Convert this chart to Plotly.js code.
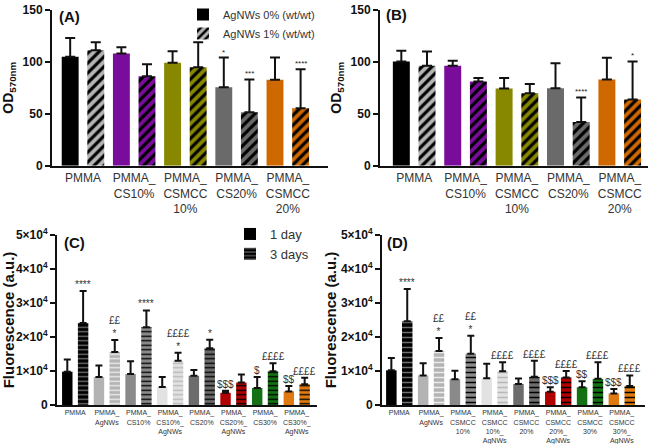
<!DOCTYPE html>
<html><head><meta charset="utf-8">
<script src="https://cdn.plot.ly/plotly-3.0.1.min.js"></script>
<style>html,body{margin:0;padding:0;background:#fff}#chart{width:650px;height:444px}</style>
</head><body><div id="chart"></div>
<script>
// ---------- Data ----------
const abCats = ['PMMA','PMMA_<br>CS10%','PMMA_<br>CSMCC<br>10%','PMMA_<br>CS20%','PMMA_<br>CSMCC<br>20%'];
const abNames = ['AgNWs 0% (wt/wt)','AgNWs 1% (wt/wt)'];
const A_ag0 = [104.8,108,99,75.4,82.7];
const A_ag0_sd = [18,6,11,28.6,21.3];
const A_ag1 = [111,86,94.6,51.5,55.3];
const A_ag1_sd = [7.6,11.6,24,31.5,37.4];
const A_sig0 = ['','','','*',''];
const A_sig1 = ['','','','***','****'];
const B_ag0 = [100.3,96,74.2,74.5,83];
const B_ag0_sd = [10.2,5,10.1,23.9,20.8];
const B_ag1 = [96.2,81,69.7,42,63.7];
const B_ag1_sd = [13.6,3.3,8.9,23.6,36.6];
const B_sig0 = ['','','','',''];
const B_sig1 = ['','','','****','*'];

const cdNames = ['1 day','3 days'];
const C_cats = ['PMMA','PMMA_<br>AgNWs','PMMA_<br>CS10%','PMMA_<br>CS10%_<br>AgNWs','PMMA_<br>CS20%','PMMA_<br>CS20%_<br>AgNWs','PMMA_<br>CS30%','PMMA_<br>CS30%_<br>AgNWs'];
const C_d1 = [9800,8200,9100,5300,8600,3600,5000,4000];
const C_d1_sd = [3600,3400,3800,2900,1700,600,3200,1600];
const C_d3 = [24100,15600,22900,13000,16700,6600,9900,6100];
const C_d3_sd = [9400,3500,4900,2400,2500,2400,2400,1900];
const C_sig1 = ['','','','','','$$$','$','$$'];
const C_sig3 = ['****','££<br>*','****','££££<br>*','*','','££££','££££'];
const D_cats = ['PMMA','PMMA_<br>AgNWs','PMMA_<br>CSMCC<br>10%','PMMA_<br>CSMCC<br>10%_<br>AgNWs','PMMA_<br>CSMCC<br>20%','PMMA_<br>CSMCC<br>20%_<br>AgNWs','PMMA_<br>CSMCC<br>30%','PMMA_<br>CSMCC<br>30%_<br>AgNWs'];
const D_d1 = [10200,8700,7600,7900,6200,3900,5200,3400];
const D_d1_sd = [3600,3600,2500,4200,1600,1300,1800,1300];
const D_d3 = [24600,15900,15100,9900,8300,8100,7700,5600];
const D_d3_sd = [9500,3800,5300,2700,4700,1900,4900,3100];
const D_sig1 = ['','','','','','$$$','$$','$$$'];
const D_sig3 = ['****','££<br>*','££<br>*','££££','££££','££££','££££','££££'];
const cdTicks = [0,10000,20000,30000,40000,50000];
const cdTickText = ['0','1×10<sup>4</sup>','2×10<sup>4</sup>','3×10<sup>4</sup>','4×10<sup>4</sup>','5×10<sup>4</sup>'];

// ---------- Styles ----------
const abSolid = ['#000000','#7a0c9c','#878700','#6a6a6a','#d06800'];
const abHatchBg = ['#b5b5b5','#7a0c9c','#878700','#6a6a6a','#d06800'];
const abHatchFg = ['#000000','#000000','#000000','#000000','#000000'];
const cdSolid = ['#000000','#b3b3b3','#8a8a8a','#e2e2e2','#6c6c6c','#b00000','#137013','#e07a10'];
const cdLineFg = ['#707070','#ececec','#000000','#b8b8b8','#000000','#000000','#000000','#000000'];
const FONT = 'Arial, Liberation Sans, sans-serif';

const zeros = n => new Array(n).fill(0);
function bar(name, cats, vals, sd, xa, ya, opt) {
  const t = {
    type: 'bar', name: name, x: cats, y: vals, xaxis: xa, yaxis: ya,
    marker: {color: opt.color, line: {width: 0}},
    error_y: {type: 'data', symmetric: false, array: sd, arrayminus: zeros(sd.length),
              color: '#111', thickness: opt.eth, width: opt.ew},
    showlegend: !!opt.legend, legend: opt.legend || 'legend', hoverinfo: 'skip'
  };
  if (opt.pattern) t.marker.pattern = opt.pattern;
  return t;
}
// scalar marker colour on patterned traces so the per-point pattern colours are honoured
function pat(shape, bg, fg, size, sol) {
  return {shape: shape, fillmode: 'replace', bgcolor: bg, fgcolor: fg, fgopacity: 1, size: size, solidity: sol};
}

const data = [
  bar(abNames[0], abCats, A_ag0, A_ag0_sd, 'x', 'y', {color: abSolid, eth: 2, ew: 5, legend: 'legend'}),
  bar(abNames[1], abCats, A_ag1, A_ag1_sd, 'x', 'y', {color: '#000', eth: 2, ew: 5, legend: 'legend',
      pattern: pat('/', abHatchBg, abHatchFg, 7, 0.45)}),
  bar(abNames[0], abCats, B_ag0, B_ag0_sd, 'x2', 'y2', {color: abSolid, eth: 2, ew: 5}),
  bar(abNames[1], abCats, B_ag1, B_ag1_sd, 'x2', 'y2', {color: '#000', eth: 2, ew: 5,
      pattern: pat('/', abHatchBg, abHatchFg, 7, 0.45)}),
  bar(cdNames[0], C_cats, C_d1, C_d1_sd, 'x3', 'y3', {color: cdSolid, eth: 2, ew: 3.5, legend: 'legend2'}),
  bar(cdNames[1], C_cats, C_d3, C_d3_sd, 'x3', 'y3', {color: '#000', eth: 2, ew: 3.5, legend: 'legend2',
      pattern: pat('-', cdSolid, cdLineFg, 4.5, 0.3)}),
  bar(cdNames[0], D_cats, D_d1, D_d1_sd, 'x4', 'y4', {color: cdSolid, eth: 2, ew: 3.5}),
  bar(cdNames[1], D_cats, D_d3, D_d3_sd, 'x4', 'y4', {color: '#000', eth: 2, ew: 3.5,
      pattern: pat('-', cdSolid, cdLineFg, 5, 0.3)})
];

// significance annotations
const annotations = [];
function sig(texts, vals, sd, off, xr, yr, size, color) {
  texts.forEach((s, i) => {
    if (!s) return;
    annotations.push({x: i + off, y: vals[i] + sd[i], xref: xr, yref: yr, text: s, showarrow: false,
      yanchor: 'bottom', yshift: -1, font: {family: FONT, size: size, color: color}});
  });
}
sig(A_sig0, A_ag0, A_ag0_sd, -0.25, 'x', 'y', 8, '#222');
sig(A_sig1, A_ag1, A_ag1_sd, 0.25, 'x', 'y', 8, '#222');
sig(B_sig0, B_ag0, B_ag0_sd, -0.25, 'x2', 'y2', 8, '#222');
sig(B_sig1, B_ag1, B_ag1_sd, 0.25, 'x2', 'y2', 8, '#222');
sig(C_sig1, C_d1, C_d1_sd, -0.25, 'x3', 'y3', 10, '#333');
sig(C_sig3, C_d3, C_d3_sd, 0.25, 'x3', 'y3', 10, '#333');
sig(D_sig1, D_d1, D_d1_sd, -0.25, 'x4', 'y4', 10, '#333');
sig(D_sig3, D_d3, D_d3_sd, 0.25, 'x4', 'y4', 10, '#333');

// panel labels
[['(A)', 57, 17], ['(B)', 384, 15], ['(C)', 62, 243], ['(D)', 385, 243]].forEach(p => {
  annotations.push({text: '<b>' + p[0] + '</b>', xref: 'paper', yref: 'paper', x: p[1] / 650, y: 1 - p[2] / 444,
    xanchor: 'left', yanchor: 'middle', showarrow: false, font: {family: FONT, size: 15, color: '#111'}});
});

function xax(domain, range, size) {
  return {domain: domain, range: range, type: 'category', showline: true, linecolor: '#111', linewidth: 2,
    ticks: '', showgrid: false, zeroline: false, tickangle: 0, fixedrange: true,
    tickfont: {family: FONT, size: size, color: '#333'}};
}
function yax(domain, range, anchor, titleText, titleSize, extra) {
  return Object.assign({domain: domain, range: range, anchor: anchor, showline: true, linecolor: '#111', linewidth: 2,
    ticks: 'outside', ticklen: 5, tickwidth: 2, tickcolor: '#111', showgrid: false, zeroline: false,
    tickfont: {family: FONT, size: 12, color: '#111', weight: 'bold'},
    title: {text: titleText, font: {family: FONT, size: titleSize, color: '#111', weight: 'bold'}}}, extra);
}

const yAB = [1 - 165.7 / 444, 1 - 9.7 / 444];
const yCD = [1 - 405 / 444, 1 - 235 / 444];

const layout = {
  width: 650, height: 444, margin: {l: 0, r: 0, t: 0, b: 0},
  paper_bgcolor: '#fff', plot_bgcolor: '#fff',
  barmode: 'group', bargap: 0, bargroupgap: 0.34,
  font: {family: FONT},
  xaxis: Object.assign(xax([52 / 650, 328 / 650], [-0.605, 4.785], 12), {anchor: 'y'}),
  yaxis: yax(yAB, [0, 150], 'x', 'OD<sub>570nm</sub>', 14, {tickvals: [0, 50, 100, 150]}),
  xaxis2: Object.assign(xax([380 / 650, 648 / 650], [-0.665, 4.55], 12), {anchor: 'y2'}),
  yaxis2: yax(yAB, [0, 150], 'x2', 'OD<sub>570nm</sub>', 14, {tickvals: [0, 50, 100, 150]}),
  xaxis3: Object.assign(xax([57 / 650, 317 / 650], [-0.575, 7.64], 7), {anchor: 'y3'}),
  yaxis3: yax(yCD, [0, 50000], 'x3', 'Fluorescence (a.u.)', 15, {tickvals: cdTicks, ticktext: cdTickText}),
  xaxis4: Object.assign(xax([382 / 650, 645 / 650], [-0.544, 7.73], 7), {anchor: 'y4'}),
  yaxis4: yax(yCD, [0, 50000], 'x4', 'Fluorescence (a.u.)', 15, {tickvals: cdTicks, ticktext: cdTickText}),
  legend: {x: 183 / 650, y: 1, xanchor: 'left', yanchor: 'top', bgcolor: 'rgba(0,0,0,0)',
    font: {family: FONT, size: 11, color: '#333'}, tracegroupgap: 0, traceorder: 'normal'},
  legend2: {x: 230 / 650, y: 1 - 219 / 444, xanchor: 'left', yanchor: 'top', bgcolor: 'rgba(0,0,0,0)',
    font: {family: FONT, size: 13, color: '#333'}, tracegroupgap: 0, traceorder: 'normal'},
  annotations: annotations
};

Plotly.newPlot('chart', data, layout, {displayModeBar: false, staticPlot: true});
</script></body></html>
